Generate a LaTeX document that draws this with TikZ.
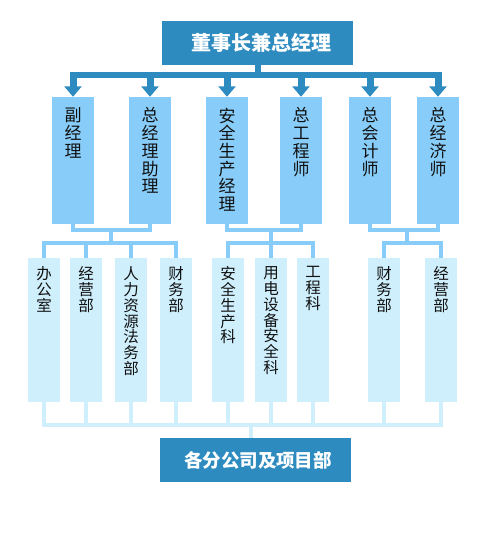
\documentclass[tikz,border=0pt]{standalone}
\usepackage{fontspec}
\setmainfont{Noto Sans CJK SC}
\usetikzlibrary{arrows.meta}
\definecolor{dk}{HTML}{2E8BC0}
\definecolor{lb}{HTML}{88CDF9}
\definecolor{vl}{HTML}{CFEFFC}
\definecolor{txt}{HTML}{101010}
\begin{document}
\begin{tikzpicture}[x=1pt,y=-1pt,
  topbox/.style={fill=dk, minimum width=191pt, minimum height=44pt, inner sep=0pt},
  l2box/.style={fill=lb, minimum width=42pt, minimum height=127pt, inner sep=0pt},
  l3box/.style={fill=vl, minimum width=32pt, minimum height=144pt, inner sep=0pt},
  t2/.style={anchor=north, align=center, inner sep=0pt, text=txt, font=\fontsize{17}{17.7}\selectfont},
  t3/.style={anchor=north, align=center, inner sep=0pt, text=txt, font=\fontsize{15.5}{15.8}\selectfont},
  arr/.style={draw=dk, line width=7pt, -{Triangle[width=17pt,length=10.5pt]}},
  mainbar/.style={draw=dk, line width=6pt},
  c2/.style={draw=lb, line width=4pt},
  c3/.style={draw=vl, line width=4pt},
  ttl/.style={inner sep=0pt, text=white, font=\fontsize{20}{21}\selectfont\bfseries}
]
\useasboundingbox (0,0) rectangle (486,542);

% top
\node[topbox] (top) at (257.5,43) {};
\node[ttl] (toptxt) at (261.5,43) {董事长兼总经理};

% level 2 boxes
\node[l2box] (m1) at (73,160.5) {};
\node[l2box] (m2) at (150,160.5) {};
\node[l2box] (m3) at (227,160.5) {};
\node[l2box] (m4) at (301,160.5) {};
\node[l2box] (m5) at (370,160.5) {};
\node[l2box] (m6) at (438,160.5) {};
\node[t2] (tm1) at (73,107.5) {副\\经\\理};
\node[t2] (tm2) at (150,107.5) {总\\经\\理\\助\\理};
\node[t2] (tm3) at (227,107.5) {安\\全\\生\\产\\经\\理};
\node[t2] (tm4) at (301,107.5) {总\\工\\程\\师};
\node[t2] (tm5) at (370,107.5) {总\\会\\计\\师};
\node[t2] (tm6) at (438,107.5) {总\\经\\济\\师};

% main connectors
\coordinate (bar) at (257.5,74.5);
\coordinate (bartop) at (257.5,71.5);
\draw[mainbar] (top.south) -- (bar);
\draw[mainbar] (m1.north |- bar) -- (m6.north |- bar);
\foreach \m in {m1,m2,m3,m4,m5,m6}
  \draw[arr] (\m.north |- bartop) -- (\m.north);

% level 3 boxes
\node[l3box] (s1) at (44,330) {};
\node[l3box] (s2) at (86,330) {};
\node[l3box] (s3) at (131,330) {};
\node[l3box] (s4) at (176,330) {};
\node[l3box] (s5) at (228,330) {};
\node[l3box] (s6) at (271,330) {};
\node[l3box] (s7) at (313,330) {};
\node[l3box] (s8) at (384,330) {};
\node[l3box] (s9) at (441,330) {};
\node[t3] (ts1) at (44,266.5) {办\\公\\室};
\node[t3] (ts2) at (86,266.5) {经\\营\\部};
\node[t3] (ts3) at (131,266.5) {人\\力\\资\\源\\法\\务\\部};
\node[t3] (ts4) at (176,266.5) {财\\务\\部};
\node[t3] (ts5) at (228,266.5) {安\\全\\生\\产\\科};
\node[t3] (ts6) at (271,266.5) {用\\电\\设\\备\\安\\全\\科};
\node[t3] (ts7) at (313,266.5) {工\\程\\科};
\node[t3] (ts8) at (384,266.5) {财\\务\\部};
\node[t3] (ts9) at (441,266.5) {经\\营\\部};

% level 2 -> level 3 connectors
\coordinate (jA) at (111,230);
\coordinate (gA) at (111,243);
\draw[c2] (m1.south) |- (jA) -| (m2.south);
\draw[c2] (jA) -- (gA);
\draw[c2] (s1.north) |- (gA) -| (s4.north);
\draw[c2] (s2.north) -- (s2.north |- gA);
\draw[c2] (s3.north) -- (s3.north |- gA);

\coordinate (jB) at (271,230);
\coordinate (gB) at (271,243);
\draw[c2] (m3.south) |- (jB) -| (m4.south);
\draw[c2] (jB) -- (gB);
\draw[c2] (s5.north) |- (gB) -| (s7.north);
\draw[c2] (s6.north) -- (gB);

\coordinate (jC) at (407,230);
\coordinate (gC) at (407,243);
\draw[c2] (m5.south) |- (jC) -| (m6.south);
\draw[c2] (jC) -- (gC);
\draw[c2] (s8.north) |- (gC) -| (s9.north);

% bottom
\node[topbox] (bot) at (255.5,460) {};
\node[ttl, font=\fontsize{18.5}{19.5}\selectfont\bfseries] (bottxt) at (258,460) {各分公司及项目部};
\coordinate (bt) at (251,424.5);
\draw[c3] (s1.south) |- (bt) -| (s9.south);
\foreach \s in {s2,s3,s4,s5,s6,s7,s8}
  \draw[c3] (\s.south) -- (\s.south |- bt);
\draw[c3] (bt) -- (bt |- bot.north);
\end{tikzpicture}
\end{document}
